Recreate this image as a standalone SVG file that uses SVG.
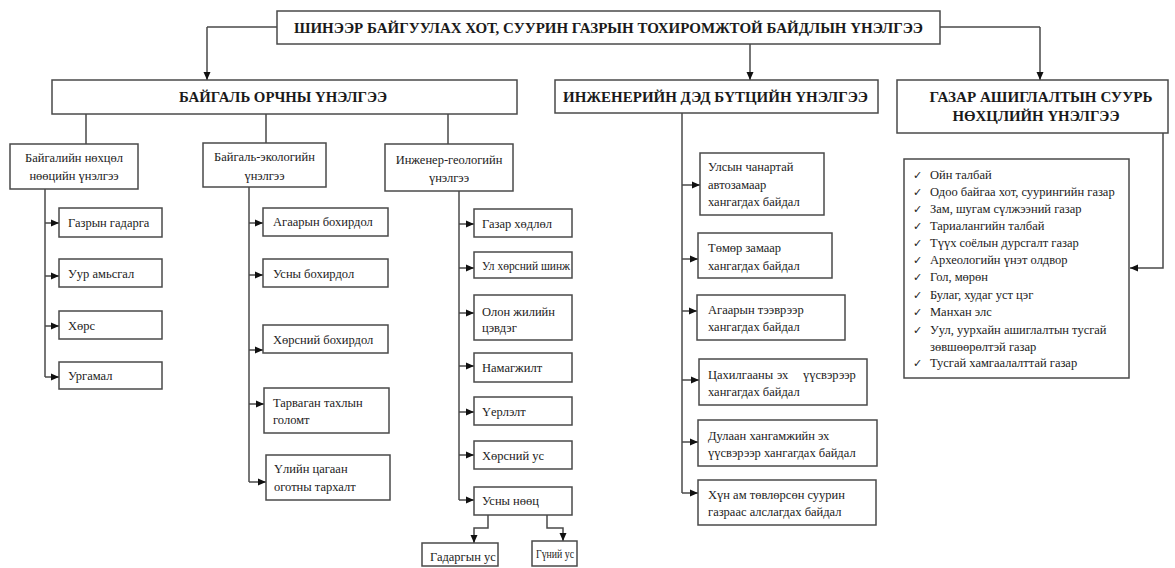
<svg xmlns="http://www.w3.org/2000/svg" width="1175" height="568" viewBox="0 0 1175 568">
<style>
.b{fill:#fff;stroke:#4a4a4a;stroke-width:1.5}
.h{font-family:"Liberation Serif","Times New Roman",serif;font-weight:bold;fill:#1a1a1a;text-anchor:middle}
.t{font-family:"Liberation Serif","Times New Roman",serif;font-size:12.5px;fill:#222}
.c{text-anchor:middle}
.ck{font-family:"DejaVu Sans",sans-serif;font-size:11px;fill:#222}
.l{fill:none;stroke:#4a4a4a;stroke-width:1.5}
.a{fill:none;stroke:#4a4a4a;stroke-width:1.5;marker-end:url(#ar)}
</style>
<defs>
<marker id="ar" markerWidth="8" markerHeight="8" refX="8" refY="4" orient="auto" markerUnits="userSpaceOnUse">
<path d="M0,0.5 L8,4 L0,7.5 z" fill="#111"/>
</marker>
</defs>
<rect width="1175" height="568" fill="#fff"/>
<g id="connectors">
<path class="l" d="M207,27 H277 M940,27 H1040"/>
<path class="a" d="M207,27 V80"/>
<path class="a" d="M1040,27 V80"/>
<path class="a" d="M750,44 V80"/>
<path class="l" d="M86,114 V144 M266,114 V143 M448,114 V144"/>
<path class="l" d="M45,189 V377"/>
<path class="a" d="M45,223 H59"/>
<path class="a" d="M45,276 H59"/>
<path class="a" d="M45,326 H59"/>
<path class="a" d="M45,377 H59"/>
<path class="l" d="M249,187 V482"/>
<path class="a" d="M249,223 H263"/>
<path class="a" d="M249,275 H263"/>
<path class="a" d="M249,350 H263"/>
<path class="a" d="M249,404 H264"/>
<path class="a" d="M249,482 H266"/>
<path class="l" d="M459,191 V500"/>
<path class="a" d="M459,224 H474"/>
<path class="a" d="M459,268 H474"/>
<path class="a" d="M459,313 H474"/>
<path class="a" d="M459,366 H474"/>
<path class="a" d="M459,412 H474"/>
<path class="a" d="M459,455 H474"/>
<path class="a" d="M459,500 H474"/>
<path class="a" d="M488,515 V528 H474 V543"/>
<path class="a" d="M547,515 V528 H563 V541"/>
<path class="l" d="M682,113 V493"/>
<path class="a" d="M682,185 H700"/>
<path class="a" d="M682,259 H698"/>
<path class="a" d="M682,311 H697"/>
<path class="a" d="M682,380 H699"/>
<path class="a" d="M682,442 H698"/>
<path class="a" d="M682,493 H698"/>
<path class="a" d="M1163,133 V268 H1130"/>
</g>
<g id="title">
<rect class="b" x="277" y="11" width="663" height="33"/>
<text class="h" x="608.5" y="33" font-size="15" textLength="629" lengthAdjust="spacingAndGlyphs">ШИНЭЭР БАЙГУУЛАХ ХОТ, СУУРИН ГАЗРЫН ТОХИРОМЖТОЙ БАЙДЛЫН ҮНЭЛГЭЭ</text>
</g>
<g id="env">
<rect class="b" x="52" y="80" width="465" height="34"/>
<text class="h" x="283" y="102" font-size="14" textLength="208" lengthAdjust="spacingAndGlyphs">БАЙГАЛЬ ОРЧНЫ ҮНЭЛГЭЭ</text>
</g>
<g id="infra">
<rect class="b" x="555" y="80" width="323" height="33"/>
<text class="h" x="715.5" y="102" font-size="15" textLength="305" lengthAdjust="spacingAndGlyphs">ИНЖЕНЕРИЙН ДЭД БҮТЦИЙН ҮНЭЛГЭЭ</text>
</g>
<g id="land">
<rect class="b" x="897" y="80" width="271" height="53"/>
<text class="h" x="1041" y="102" font-size="15" textLength="223" lengthAdjust="spacingAndGlyphs">ГАЗАР АШИГЛАЛТЫН СУУРЬ</text>
<text class="h" x="1036" y="121" font-size="15" textLength="167" lengthAdjust="spacingAndGlyphs">НӨХЦЛИЙН ҮНЭЛГЭЭ</text>
</g>
<g id="natural">
<rect class="b" x="10" y="144" width="128" height="45"/>
<text class="t c" x="74" y="162">Байгалийн нөхцөл</text>
<text class="t c" x="74" y="180">нөөцийн үнэлгээ</text>
</g>
<g id="n1"><rect class="b" x="59" y="208" width="103" height="29"/><text class="t" x="68" y="227">Газрын гадарга</text></g>
<g id="n2"><rect class="b" x="59" y="259" width="103" height="28"/><text class="t" x="68" y="278">Уур амьсгал</text></g>
<g id="n3"><rect class="b" x="59" y="311" width="103" height="28"/><text class="t" x="68" y="330">Хөрс</text></g>
<g id="n4"><rect class="b" x="59" y="362" width="103" height="27"/><text class="t" x="68" y="380">Ургамал</text></g>
<g id="eco">
<rect class="b" x="203" y="143" width="123" height="44"/>
<text class="t c" x="264.5" y="161">Байгаль-экологийн</text>
<text class="t c" x="264.5" y="180">үнэлгээ</text>
</g>
<g id="e1"><rect class="b" x="263" y="208" width="125" height="28"/><text class="t" x="273" y="226">Агаарын бохирдол</text></g>
<g id="e2"><rect class="b" x="263" y="259" width="125" height="28"/><text class="t" x="273" y="278">Усны бохирдол</text></g>
<g id="e3"><rect class="b" x="263" y="325" width="125" height="28"/><text class="t" x="273" y="344">Хөрсний бохирдол</text></g>
<g id="e4"><rect class="b" x="264" y="388" width="125" height="45"/><text class="t" x="273" y="407">Тарваган тахлын</text><text class="t" x="273" y="424">голомт</text></g>
<g id="e5"><rect class="b" x="266" y="455" width="124" height="45"/><text class="t" x="274" y="473">Үлийн цагаан</text><text class="t" x="274" y="491">оготны тархалт</text></g>
<g id="geo">
<rect class="b" x="385" y="144" width="128" height="47"/>
<text class="t c" x="449" y="164">Инженер-геологийн</text>
<text class="t c" x="449" y="182">үнэлгээ</text>
</g>
<g id="g1"><rect class="b" x="474" y="209" width="98" height="28"/><text class="t" x="482" y="228">Газар хөдлөл</text></g>
<g id="g2"><rect class="b" x="474" y="252" width="98" height="26"/><text class="t" x="482" y="270" textLength="88" lengthAdjust="spacingAndGlyphs">Ул хөрсний шинж</text></g>
<g id="g3"><rect class="b" x="474" y="295" width="98" height="45"/><text class="t" x="482" y="316">Олон жилийн</text><text class="t" x="482" y="332">цэвдэг</text></g>
<g id="g4"><rect class="b" x="474" y="353" width="98" height="29"/><text class="t" x="482" y="372">Намагжилт</text></g>
<g id="g5"><rect class="b" x="474" y="397" width="98" height="28"/><text class="t" x="482" y="416">Үерлэлт</text></g>
<g id="g6"><rect class="b" x="474" y="441" width="98" height="28"/><text class="t" x="482" y="460">Хөрсний ус</text></g>
<g id="g7"><rect class="b" x="474" y="487" width="98" height="28"/><text class="t" x="482" y="505">Усны нөөц</text></g>
<g id="g8"><rect class="b" x="422" y="543" width="76" height="23"/><text class="t" x="430" y="561">Гадаргын ус</text></g>
<g id="g9"><rect class="b" x="532" y="541" width="45" height="25"/><text class="t" x="536" y="558" font-size="10.5" textLength="38" lengthAdjust="spacingAndGlyphs">Гүний ус</text></g>
<g id="i1"><rect class="b" x="700" y="153" width="124" height="62"/><text class="t" x="708" y="171">Улсын чанартай</text><text class="t" x="708" y="189">автозамаар</text><text class="t" x="708" y="206">хангагдах  байдал</text></g>
<g id="i2"><rect class="b" x="698" y="233" width="134" height="45"/><text class="t" x="708" y="252">Төмөр замаар</text><text class="t" x="708" y="270">хангагдах  байдал</text></g>
<g id="i3"><rect class="b" x="697" y="295" width="148" height="45"/><text class="t" x="708" y="314">Агаарын тээврээр</text><text class="t" x="708" y="331">хангагдах  байдал</text></g>
<g id="i4"><rect class="b" x="699" y="359" width="168" height="46"/><text class="t" y="379"><tspan x="708">Цахилгааны</tspan><tspan x="777">эх</tspan><tspan x="803">үүсвэрээр</tspan></text><text class="t" x="708" y="396">хангагдах байдал</text></g>
<g id="i5"><rect class="b" x="698" y="420" width="179" height="46"/><text class="t" x="708" y="440">Дулаан хангамжийн эх</text><text class="t" x="708" y="457">үүсвэрээр хангагдах байдал</text></g>
<g id="i6"><rect class="b" x="698" y="480" width="178" height="45"/><text class="t" x="708" y="499">Хүн ам төвлөрсөн суурин</text><text class="t" x="708" y="516">газраас алслагдах байдал</text></g>
<g id="list">
<rect class="b" x="904" y="159" width="225" height="219"/>
<g class="ck">
<text x="913" y="179">✓</text><text x="913" y="196">✓</text><text x="913" y="213">✓</text><text x="913" y="230">✓</text><text x="913" y="247">✓</text><text x="913" y="264">✓</text><text x="913" y="281">✓</text><text x="913" y="299">✓</text><text x="913" y="316">✓</text><text x="913" y="334">✓</text><text x="913" y="367">✓</text>
</g>
<text class="t" x="930" y="179">Ойн талбай</text>
<text class="t" x="930" y="196">Одоо байгаа хот, суурингийн газар</text>
<text class="t" x="930" y="213">Зам, шугам сүлжээний газар</text>
<text class="t" x="930" y="230">Тариалангийн талбай</text>
<text class="t" x="930" y="247">Түүх соёлын дурсгалт газар</text>
<text class="t" x="930" y="264">Археологийн үнэт олдвор</text>
<text class="t" x="930" y="281">Гол, мөрөн</text>
<text class="t" x="930" y="299">Булаг, худаг уст цэг</text>
<text class="t" x="930" y="316">Манхан элс</text>
<text class="t" x="930" y="334">Уул, уурхайн  ашиглалтын тусгай</text>
<text class="t" x="930" y="351">зөвшөөрөлтэй газар</text>
<text class="t" x="930" y="367">Тусгай хамгаалалттай газар</text>
</g>
</svg>
